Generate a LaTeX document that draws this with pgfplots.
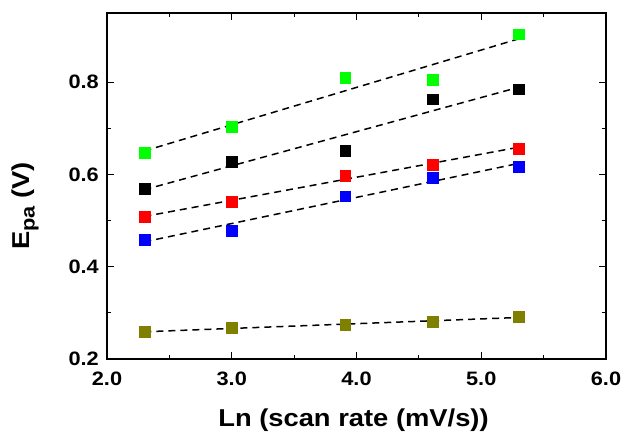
\documentclass[border=0pt]{standalone}
\usepackage{fontspec}
\setmainfont{Liberation Sans}[FakeStretch=1.12]
\usepackage{pgfplots}
\pgfplotsset{compat=1.18}
\usetikzlibrary{calc}
\definecolor{cgreen}{RGB}{0,255,0}
\definecolor{cred}{RGB}{255,0,0}
\definecolor{cblue}{RGB}{0,0,255}
\definecolor{colive}{RGB}{128,128,0}
\begin{document}
\begin{tikzpicture}
\begin{axis}[name=ax, scale only axis, width=499bp, height=346bp,
  xmin=2, xmax=6, ymin=0.2, ymax=0.95,
  xtick={2,3,4,5,6}, ytick={0.2,0.4,0.6,0.8},
  minor x tick num=1, minor y tick num=1,
  tick align=inside, major tick length=7bp, minor tick length=4bp,
  axis line style={line width=1.3bp},
  every tick/.style={black, line width=1.2bp},
  tick label style={font=\fontsize{19.5}{21}\selectfont\bfseries,
    /pgf/number format/fixed, /pgf/number format/fixed zerofill,
    /pgf/number format/precision=1, /pgf/number format/assume math mode=true},
  xticklabel style={anchor=north, inner sep=0pt, yshift=-13bp},
  yticklabel style={anchor=east, inner sep=0pt, xshift=-8bp},
  every axis x label/.style={at={(rel axis cs:0.5,0)}, anchor=base, xshift=-3bp, yshift=-67bp, font=\fontsize{24.5}{26}\selectfont\bfseries},
  every axis y label/.style={at={(rel axis cs:0,0.5)}, xshift=-77bp, yshift=-20bp, rotate=90, anchor=base, font=\fontsize{24.5}{26}\selectfont\bfseries},
  xlabel={Ln (scan rate (mV/s))},
  ylabel={E\raisebox{-0.35ex}{\fontsize{19.5}{19}\selectfont pa} (V)},
  mk/.style={only marks, mark=square*, mark size=5.4bp, mark options={draw=#1, fill=#1}},
  fit/.style={black, line width=1.5bp, dash pattern=on 7bp off 5bp},
]
\addplot[mk=cgreen] table {
x y
2.30 0.648
3.00 0.704
3.91 0.810
4.61 0.806
5.30 0.904
};
\addplot[mk=black] table {
x y
2.30 0.570
3.00 0.627
3.91 0.651
4.61 0.763
5.30 0.785
};
\addplot[mk=cred] table {
x y
2.30 0.508
3.00 0.541
3.91 0.598
4.61 0.622
5.30 0.656
};
\addplot[mk=cblue] table {
x y
2.30 0.459
3.00 0.478
3.91 0.553
4.61 0.593
5.30 0.616
};
\addplot[mk=colive] table {
x y
2.30 0.260
3.00 0.267
3.91 0.274
4.61 0.281
5.30 0.292
};
\addplot[fit] coordinates {(2.30,0.651) (5.30,0.894)};
\addplot[fit] coordinates {(2.30,0.567) (5.30,0.789)};
\addplot[fit] coordinates {(2.30,0.509) (5.30,0.659)};
\addplot[fit] coordinates {(2.30,0.454) (5.30,0.624)};
\addplot[fit] coordinates {(2.30,0.259) (5.30,0.290)};
\end{axis}
\pgfresetboundingbox
\path[use as bounding box] ($(ax.south west)+(-107bp,-73bp)$) rectangle ($(ax.north east)+(15bp,13bp)$);
\end{tikzpicture}
\end{document}
